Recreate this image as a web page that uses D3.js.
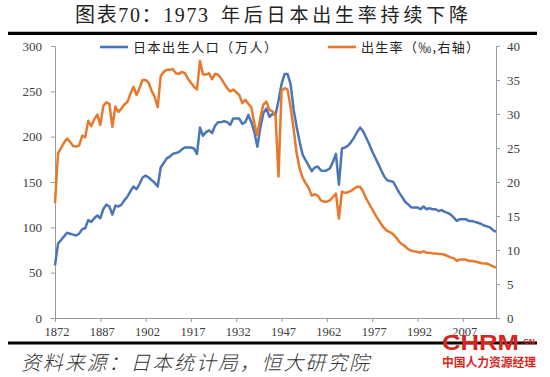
<!DOCTYPE html>
<html>
<head>
<meta charset="utf-8">
<script src="https://cdn.jsdelivr.net/npm/d3@7"></script>
<style>
  body { margin: 0; background: #fff; }
  svg { display: block; }
  .tick text { font-family: "Liberation Serif", "Times New Roman", serif; fill: #404040; }
  .tick line, .domain { stroke: #9a9a9a; }
</style>
</head>
<body>
<svg id="chart" width="550" height="377"></svg>
<script>
// 出生人口（万人），1872-2018
const births = [
  58, 82, 86, 90, 94, 93, 92, 91, 93, 98,
  99, 108, 106, 110, 113, 110, 120, 125, 123, 114,
  124, 123, 125, 130, 134, 140, 145, 142, 148, 155,
  157, 155, 152, 149, 145, 166, 171, 176, 178, 181,
  182, 183, 186, 188, 188, 188, 187, 181, 210, 201,
  205, 207, 204, 212, 216, 216, 217, 216, 213, 220,
  220, 220, 214, 216, 224, 216, 205, 189, 210, 226,
  231, 222, 225, 224, 240, 258, 269, 269, 258, 230,
  211, 194, 180, 174, 168, 162, 166, 167, 163, 162,
  163, 165, 172, 181, 147, 187, 188, 190, 194, 199,
  205, 210, 206, 199, 192, 184, 177, 170, 163, 156,
  152, 151, 150, 144, 138, 133, 128, 125, 122, 122,
  122, 120, 123, 120, 121, 120, 120, 118, 119, 117,
  116, 114, 111, 107, 109, 109, 109, 107, 107, 106,
  105, 104, 102, 101, 100, 97, 95,
];

// 出生率（‰），1872-2018
const rates = [
  16.9, 24.2, 25.0, 25.8, 26.4, 25.9, 25.3, 25.2, 25.4, 26.8,
  26.6, 29.0, 28.2, 29.2, 29.9, 28.4, 31.2, 31.7, 31.5, 28.1,
  31.1, 30.3, 30.8, 31.4, 31.8, 33.0, 34.0, 32.8, 33.8, 35.0,
  35.0, 34.6, 33.4, 32.5, 31.0, 35.6, 36.2, 36.5, 36.5, 36.6,
  36.0, 35.9, 36.2, 36.0, 35.2, 34.6, 34.0, 33.6, 37.8, 35.8,
  35.8, 36.0, 35.1, 35.9, 35.8, 35.2, 34.5, 33.8, 33.3, 33.6,
  33.2, 32.8, 31.6, 32.1, 31.5, 31.0, 28.6, 26.9, 29.6, 31.4,
  31.8, 30.6, 30.4, 29.8, 20.8, 33.4, 33.8, 33.6, 31.0, 27.8,
  24.2, 22.0, 20.6, 19.8, 19.1, 18.0, 18.2, 18.0, 17.3, 17.1,
  17.1, 17.3, 17.8, 18.3, 14.6, 18.6, 18.4, 18.5, 18.7, 19.0,
  19.3, 19.3, 18.6, 17.6, 16.8, 16.0, 15.2, 14.5, 13.8, 13.2,
  12.8, 12.6, 12.3, 11.8, 11.2, 10.8, 10.5, 10.1, 9.9, 9.8,
  9.7, 9.6, 9.8, 9.6, 9.6, 9.5, 9.5, 9.4, 9.4, 9.3,
  9.1, 8.9, 8.8, 8.4, 8.6, 8.6, 8.6, 8.4, 8.4, 8.3,
  8.2, 8.1, 8.0, 8.0, 7.8, 7.6, 7.4,
];

const firstYear = 1872;
const years = births.map((d, i) => firstYear + i);
const xTicks = [1872, 1887, 1902, 1917, 1932, 1947, 1962, 1977, 1992, 2007];
const leftTicks = [0, 50, 100, 150, 200, 250, 300];
const rightTicks = [0, 5, 10, 15, 20, 25, 30, 35, 40];

const BLUE = "#4a76b8";
const ORANGE = "#e8782c";
const CJK = "'Noto Sans CJK SC', sans-serif";

const svg = d3.select("#chart");

const x = d3.scaleLinear().domain([1872, 2018]).range([55, 496]);
const yL = d3.scaleLinear().domain([0, 300]).range([318, 46]);
const yR = d3.scaleLinear().domain([0, 40]).range([318, 46]);

// title + rules
svg.append("text")
  .attr("x", 75).attr("y", 22)
  .attr("font-family", "'Liberation Serif', " + CJK)
  .attr("font-size", 20).attr("fill", "#222")
  .attr("textLength", 133).attr("lengthAdjust", "spacing")
  .text("图表70：1973");
svg.append("text")
  .attr("x", 221).attr("y", 22)
  .attr("font-family", CJK)
  .attr("font-size", 19).attr("fill", "#222")
  .attr("textLength", 247).attr("lengthAdjust", "spacing")
  .text("年后日本出生率持续下降");

svg.append("line").attr("x1", 8).attr("x2", 537).attr("y1", 33.3).attr("y2", 33.3)
  .attr("stroke", "#000").attr("stroke-width", 3.2);
svg.append("line").attr("x1", 8).attr("x2", 537).attr("y1", 343).attr("y2", 343)
  .attr("stroke", "#000").attr("stroke-width", 3.2);

// axes
svg.append("g").attr("transform", "translate(55,0)")
  .call(d3.axisLeft(yL).tickValues(leftTicks).tickSize(4).tickSizeOuter(0).tickPadding(9))
  .call((g) => g.selectAll("text").attr("font-size", 13));

svg.append("g").attr("transform", "translate(496,0)")
  .call(d3.axisRight(yR).tickValues(rightTicks).tickSize(4).tickSizeOuter(0).tickPadding(7))
  .call((g) => g.selectAll("text").attr("font-size", 13));

svg.append("g").attr("transform", "translate(0,318)")
  .call(d3.axisBottom(x).tickValues(xTicks).tickFormat(d3.format("d")).tickSize(4).tickSizeOuter(0).tickPadding(5))
  .call((g) => g.selectAll("text").attr("font-size", 12.5).attr("dx", 1.5));

// series
const lineL = d3.line().x((d, i) => x(years[i])).y((d) => yL(d));
const lineR = d3.line().x((d, i) => x(years[i])).y((d) => yR(d));

svg.append("path").datum(births)
  .attr("fill", "none").attr("stroke", BLUE).attr("stroke-width", 2.5)
  .attr("stroke-linejoin", "round").attr("d", lineL);

svg.append("path").datum(rates)
  .attr("fill", "none").attr("stroke", ORANGE).attr("stroke-width", 2.5)
  .attr("stroke-linejoin", "round").attr("d", lineR);

// legend
const legend = [
  { label: "日本出生人口（万人）", color: BLUE, x: 100, len: 144 },
  { label: "出生率（‰,右轴）", color: ORANGE, x: 328, len: 118 },
];
legend.forEach((d) => {
  svg.append("line").attr("x1", d.x).attr("x2", d.x + 28).attr("y1", 47).attr("y2", 47)
    .attr("stroke", d.color).attr("stroke-width", 2.6);
  svg.append("text").attr("x", d.x + 33).attr("y", 51.5)
    .attr("font-family", CJK).attr("font-size", 13).attr("fill", "#222")
    .attr("textLength", d.len).attr("lengthAdjust", "spacing")
    .text(d.label);
});

// source
svg.append("text")
  .attr("x", 21).attr("y", 370)
  .attr("font-family", CJK).attr("font-size", 20).attr("font-style", "italic")
  .attr("fill", "#333").attr("font-weight", 300)
  .attr("textLength", 348).attr("lengthAdjust", "spacing")
  .text("资料来源：日本统计局，恒大研究院");

// watermark
svg.append("text")
  .attr("x", 442).attr("y", 350)
  .attr("font-family", "'Liberation Sans', sans-serif").attr("font-weight", "bold")
  .attr("font-size", 22).attr("fill", "#d9261c")
  .attr("textLength", 77).attr("lengthAdjust", "spacingAndGlyphs")
  .text("CHRM");
svg.append("text")
  .attr("x", 521).attr("y", 344)
  .attr("font-family", "'Liberation Sans', sans-serif").attr("font-weight", "bold")
  .attr("font-size", 8).attr("fill", "#d9261c")
  .text(".CN");
svg.append("text")
  .attr("x", 442).attr("y", 367)
  .attr("font-family", CJK).attr("font-weight", "bold")
  .attr("font-size", 12).attr("fill", "#d9261c")
  .attr("textLength", 94).attr("lengthAdjust", "spacingAndGlyphs")
  .text("中国人力资源经理");
</script>
</body>
</html>
